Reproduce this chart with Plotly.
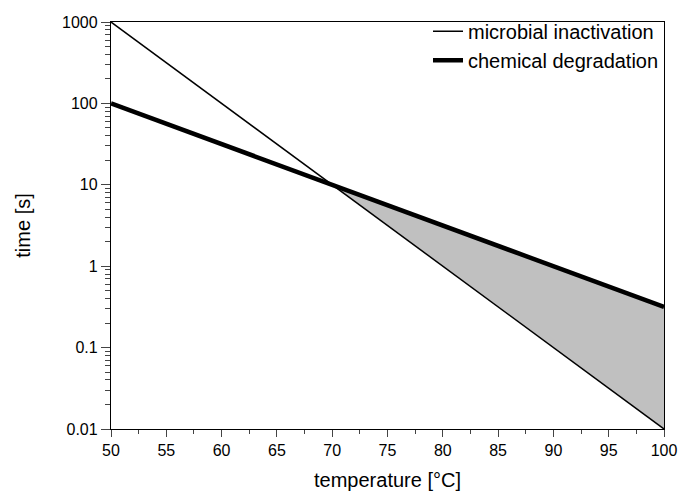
import plotly.graph_objects as go

temperature = [50, 100]
microbial = [1000, 0.01]
chemical = [100, 0.316]
shade_x = [70, 100, 100, 70]
shade_y = [10, 0.316, 0.01, 10]

y_ticks = [0.01, 0.1, 1, 10, 100, 1000]
y_labels = ["0.01", "0.1", "1", "10", "100", "1000"]
x_ticks = [50, 55, 60, 65, 70, 75, 80, 85, 90, 95, 100]

fig = go.Figure()
fig.add_trace(go.Scatter(x=shade_x, y=shade_y, fill="toself", fillcolor="#c0c0c0",
                         line=dict(width=0), mode="lines", showlegend=False, hoverinfo="skip"))
fig.add_trace(go.Scatter(x=temperature, y=microbial, mode="lines", name="microbial inactivation",
                         line=dict(color="black", width=1.5)))
fig.add_trace(go.Scatter(x=temperature, y=chemical, mode="lines", name="chemical degradation",
                         line=dict(color="black", width=4.5)))

font = "Liberation Sans, Arial, sans-serif"
fig.update_layout(
    width=693, height=498,
    margin=dict(l=111, r=29, t=20, b=69),
    paper_bgcolor="white", plot_bgcolor="white",
    font=dict(family=font, color="black", size=16),
    legend=dict(x=1, xanchor="right", y=1.025, yanchor="top", bgcolor="rgba(0,0,0,0)",
                font=dict(size=20), itemwidth=30, tracegroupgap=0),
    xaxis=dict(range=[50, 100], tickvals=x_ticks, ticks="outside", ticklen=7, tickwidth=1.3,
               linecolor="black", linewidth=1.3, mirror=True, showgrid=False, zeroline=False,
               title=dict(text="temperature [°C]", font=dict(size=20), standoff=14),
               minor=dict(ticks="outside", ticklen=4, tickwidth=1.3, dtick=2.5, showgrid=False),
               tickfont=dict(size=16)),
    yaxis=dict(type="log", range=[-2, 3], tickvals=y_ticks, ticktext=y_labels, ticks="outside",
               ticklen=9, tickwidth=1.3, linecolor="black", linewidth=1.3, mirror=True,
               showgrid=False, zeroline=False,
               title=dict(text="time [s]", font=dict(size=20), standoff=26),
               minor=dict(ticks="outside", ticklen=5, tickwidth=1.3, dtick="D1", showgrid=False),
               tickfont=dict(size=16)),
)
fig.write_html("out.html")
